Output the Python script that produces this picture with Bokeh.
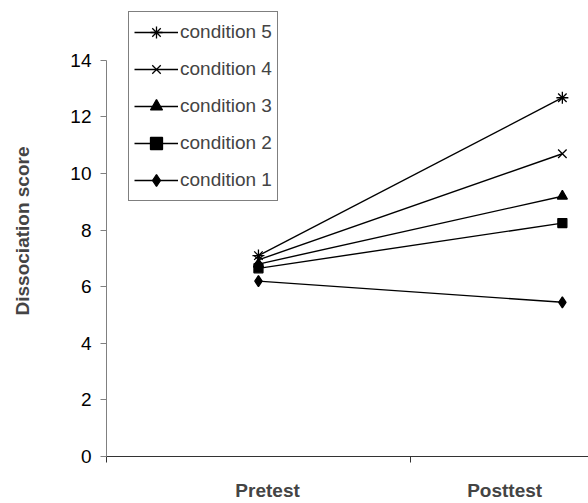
from bokeh.plotting import figure
from bokeh.models import Range1d, FixedTicker, LinearAxis, Legend, LegendItem
from bokeh.embed import file_html
from bokeh.resources import INLINE

# ---- data ----
phases = ["Pretest", "Posttest"]
phase_x = [0.5, 1.5]
conditions = ["condition 1", "condition 2", "condition 3", "condition 4", "condition 5"]
pretest = [6.2, 6.65, 6.8, 6.95, 7.1]
posttest = [5.45, 8.25, 9.2, 10.7, 12.68]
y_ticks = [0, 2, 4, 6, 8, 10, 12, 14]
markers = ["diamond", "square", "triangle", "x", "asterisk"]

FONT = "Liberation Sans"

p = figure(width=588, height=503, output_backend="svg", toolbar_location=None,
           x_range=Range1d(0, 1.586), y_range=Range1d(0, 15.94),
           min_border_left=106, min_border_right=0, min_border_top=5,
           min_border_bottom=47)
p.grid.visible = False
p.outline_line_color = None
p.background_fill_color = "white"
p.border_fill_color = "white"

# y axis
ya = p.yaxis[0]
ya.ticker = FixedTicker(ticks=y_ticks)
ya.bounds = (0, 14)
ya.axis_label = "Dissociation score"
ya.axis_label_text_font = FONT
ya.axis_label_text_font_style = "bold"
ya.axis_label_text_font_size = "19px"
ya.axis_label_standoff = 34
ya.major_label_text_font = FONT
ya.major_label_text_font_size = "19px"
ya.major_label_text_color = "black"
ya.major_label_standoff = 9
ya.major_tick_in = 0
ya.major_tick_out = 6
ya.minor_tick_line_color = None
ya.axis_line_color = "#808080"
ya.major_tick_line_color = "#808080"

# x axis (category boundaries)
xa = p.xaxis[0]
xa.ticker = FixedTicker(ticks=[0, 1])
xa.major_label_overrides = {0: "", 1: ""}
xa.major_tick_in = 0
xa.major_tick_out = 6
xa.minor_tick_line_color = None
xa.axis_line_color = "#333333"
xa.major_tick_line_color = "#333333"
xa.major_label_text_font_size = "1px"
xa.major_label_standoff = 0

# category labels axis
label_pos = [0.53, 1.31]
xa2 = LinearAxis(ticker=FixedTicker(ticks=label_pos),
                 major_label_overrides={label_pos[i]: phases[i] for i in range(2)},
                 axis_line_color=None, major_tick_line_color=None,
                 minor_tick_line_color=None,
                 major_label_text_font=FONT, major_label_text_font_style="bold",
                 major_label_text_font_size="19px", major_label_standoff=11)
p.add_layout(xa2, "below")

items = []
for i in range(len(conditions)):
    ys = [pretest[i], posttest[i]]
    r1 = p.line(phase_x, ys, line_color="black", line_width=1.4)
    fill = "black" if markers[i] in ("diamond", "square", "triangle") else None
    size = {"diamond": 11, "square": 9, "triangle": 10, "x": 12, "asterisk": 12}[markers[i]]
    r2 = p.scatter(phase_x, ys, marker=markers[i], size=size, line_color="black",
                   fill_color=fill, line_width=1.3)
    items.append(LegendItem(label=conditions[i], renderers=[r1, r2]))

legend = Legend(items=list(reversed(items)), location=(22, 255),
                border_line_color="black", border_line_width=1,
                padding=5, spacing=7, glyph_height=30, label_height=30,
                glyph_width=44, label_standoff=2, margin=0,
                label_text_font=FONT, label_text_font_size="19px",
                background_fill_alpha=1)
p.add_layout(legend, "center")

open("out.html", "w").write(file_html(p, INLINE))
